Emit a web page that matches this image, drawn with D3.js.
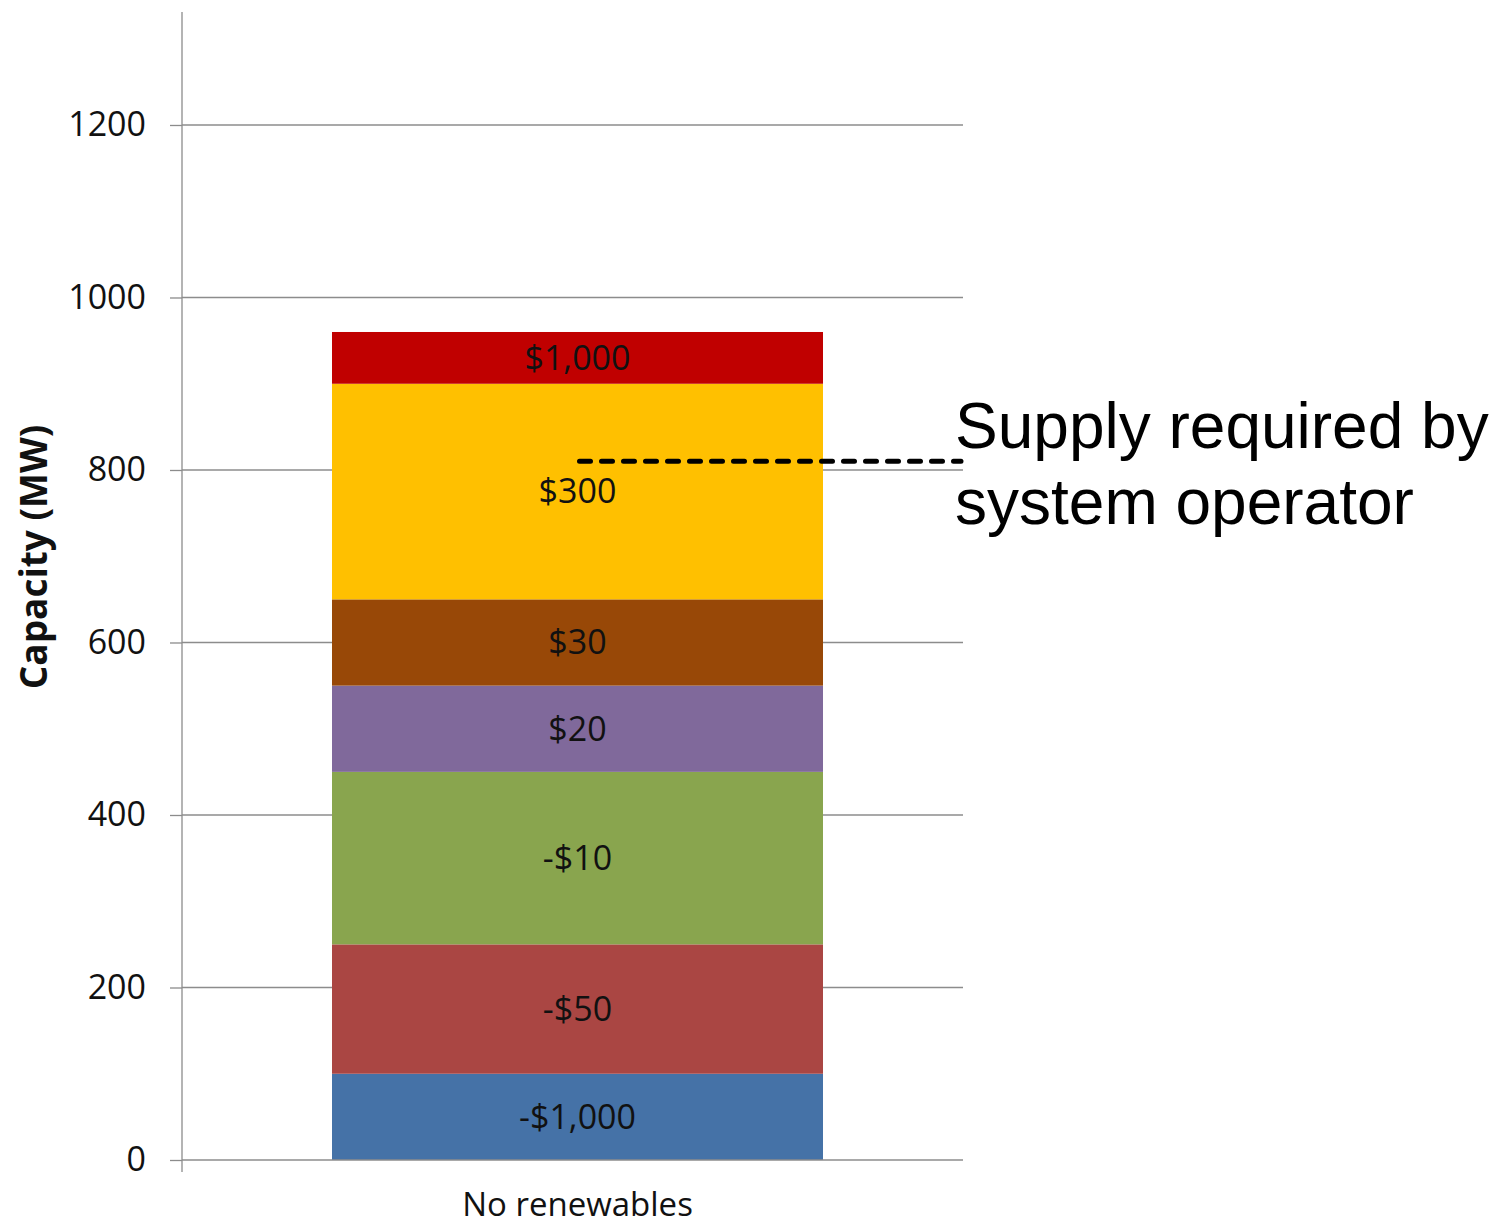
<!DOCTYPE html>
<html>
<head>
<meta charset="utf-8">
<script src="https://cdn.jsdelivr.net/npm/d3@7"></script>
<style>
  html, body { margin: 0; padding: 0; background: #fff; }
  svg { display: block; }
</style>
</head>
<body>
<svg id="chart" width="1492" height="1227"></svg>
<script>
// Supply stack offered into the market, bottom to top
const categories = ["No renewables"];
const priceLabels = ["-$1,000", "-$50", "-$10", "$20", "$30", "$300", "$1,000"];
const capacities = [100, 150, 200, 100, 100, 250, 60];   // MW per price block
const blockColors = ["#4572A7", "#AA4643", "#89A54E", "#80699B", "#984807", "#FFC000", "#C00000"];
const yTicks = [0, 200, 400, 600, 800, 1000, 1200];
const requiredSupply = 810;  // MW
const annotationLines = ["Supply required by", "system operator"];

const svg = d3.select("#chart");
const plot = { left: 182, right: 963, top: 12, bottom: 1160 };
const font = "'Open Sans', sans-serif";

const y = d3.scaleLinear().domain([0, 1331]).range([plot.bottom, plot.top]);
const x = d3.scaleBand().domain(categories).range([plot.left, plot.right + 10]);
const barW = 491;

// gridlines
svg.append("g").selectAll("line").data(yTicks.filter(d => d > 0)).join("line")
  .attr("x1", plot.left).attr("x2", plot.right)
  .attr("y1", d => y(d)).attr("y2", d => y(d))
  .attr("stroke", "#8c8c8c").attr("stroke-width", 1.3);

// stacked blocks
const row = {};
priceLabels.forEach((k, i) => row[k] = capacities[i]);
const stack = d3.stack().keys(priceLabels)([row]);
const cx = x(categories[0]) + x.bandwidth() / 2;

const g = svg.append("g");
stack.forEach((layer, i) => {
  const d = layer[0];
  g.append("rect")
    .attr("x", cx - barW / 2).attr("width", barW)
    .attr("y", y(d[1])).attr("height", y(d[0]) - y(d[1]))
    .attr("fill", blockColors[i]);
  g.append("text")
    .attr("x", cx).attr("y", (y(d[0]) + y(d[1])) / 2)
    .attr("dy", "0.35em")
    .attr("text-anchor", "middle")
    .attr("font-family", font)
    .attr("font-size", 34)
    .attr("fill", "#111")
    .text(layer.key);
});

// y axis
const yAxis = d3.axisLeft(y).tickValues(yTicks).tickFormat(d3.format("d")).tickSize(12).tickPadding(24);
const ya = svg.append("g").attr("transform", `translate(${plot.left},0)`).call(yAxis);
ya.select(".domain").attr("d", `M0,${plot.top}V${plot.bottom + 12}`).attr("stroke", "#8c8c8c").attr("stroke-width", 1.3);
ya.selectAll(".tick line").attr("stroke", "#8c8c8c").attr("stroke-width", 1.3);
ya.selectAll(".tick text")
  .attr("font-family", font).attr("font-size", 34).attr("fill", "#111");

// x axis baseline and category label
svg.append("line").attr("x1", plot.left).attr("x2", plot.right)
  .attr("y1", y(0)).attr("y2", y(0)).attr("stroke", "#8c8c8c").attr("stroke-width", 1.3);
svg.append("text").attr("x", cx).attr("y", 1216)
  .attr("text-anchor", "middle")
  .attr("font-family", font).attr("font-size", 33).attr("fill", "#111")
  .text(categories[0]);

// y axis title
svg.append("text")
  .attr("transform", `translate(47,557) rotate(-90)`)
  .attr("text-anchor", "middle")
  .attr("font-family", font).attr("font-weight", "bold").attr("font-size", 37)
  .attr("fill", "#111")
  .text("Capacity (MW)");

// required supply line
svg.append("line")
  .attr("x1", cx + 2).attr("x2", plot.right - 2)
  .attr("y1", y(requiredSupply)).attr("y2", y(requiredSupply))
  .attr("stroke", "#000").attr("stroke-width", 5)
  .attr("stroke-linecap", "round")
  .attr("stroke-dasharray", "11,11");

svg.append("text")
  .attr("x", 955).attr("y", 448)
  .attr("font-family", "'Liberation Sans', Arial, sans-serif").attr("font-size", 64).attr("fill", "#000")
  .selectAll("tspan").data(annotationLines).join("tspan")
  .attr("x", 955).attr("dy", (d, i) => i === 0 ? 0 : 76)
  .text(d => d);
</script>
</body>
</html>
